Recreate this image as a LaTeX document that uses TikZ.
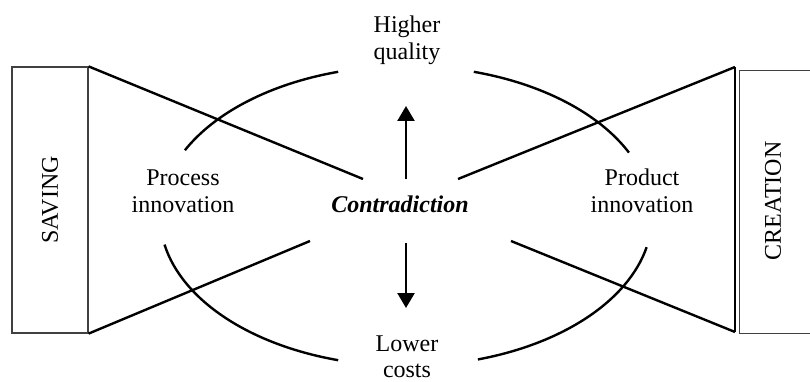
\documentclass[tikz,border=0pt]{standalone}
\usepackage{fontspec}
\setmainfont{Liberation Serif}
\usetikzlibrary{arrows.meta}
\begin{document}
\begin{tikzpicture}[x=1pt,y=-1pt,
  lbl/.style={font=\fontsize{24}{27}\selectfont, align=center, inner sep=0pt, anchor=base},
  thickline/.style={line width=2.4pt, black},
  boxline/.style={line width=1.2pt, draw=black!75},
  arr/.style={line width=2.4pt, -{Triangle[width=17pt,length=15pt]}}]
\useasboundingbox (0,0) rectangle (810,382);
% boxes
\node[boxline, draw, minimum width=76pt, minimum height=266pt, inner sep=0pt] (saving) at (50,200) {};
\node[rotate=90, font=\fontsize{24}{27}\selectfont, inner sep=0pt] (savingtxt) at (50,200) {SAVING};
\node[boxline, draw, minimum width=80pt, minimum height=263pt, inner sep=0pt, anchor=north west] (creation) at (739,70) {};
\node[rotate=90, font=\fontsize{24}{27}\selectfont, inner sep=0pt] (creationtxt) at (773,201) {CREATION};
\coordinate (rt) at (735,67);
\coordinate (rb) at (735,332);
\draw[thickline] (rt) -- (rb);
% wedge end points
\coordinate (ul) at (363,179);
\coordinate (ll) at (310,241);
\coordinate (ur) at (458,179);
\coordinate (lr) at (511,241);
\draw[thickline] (saving.north east) -- (ul);
\draw[thickline] (saving.south east) -- (ll);
\draw[thickline] (rt) -- (ur);
\draw[thickline] (rb) -- (lr);
% ellipse arcs
\coordinate (c) at (406,216);
\draw[thickline] (c) ++(206:246 and 150) arc[start angle=206, end angle=254, x radius=246, y radius=150];
\draw[thickline] (c) ++(286:246 and 150) arc[start angle=286, end angle=335, x radius=246, y radius=150];
\draw[thickline] (c) ++(106:246 and 150) arc[start angle=106, end angle=169, x radius=246, y radius=150];
\draw[thickline] (c) ++(12:246 and 150) arc[start angle=12, end angle=73, x radius=246, y radius=150];
% texts (base anchor = last line baseline)
\node[lbl] (hq) at (407,60) {Higher\\quality};
\node[lbl, font=\fontsize{24}{26}\selectfont] (lc) at (407,377) {Lower\\costs};
\node[lbl] (pi) at (183,212) {Process\\innovation};
\node[lbl] (pri) at (642,212) {Product\\innovation};
\node[lbl, font=\fontsize{24}{27}\selectfont\bfseries\itshape] (con) at (400,212) {Contradiction};
% arrows
\coordinate (a1) at (406,179);
\coordinate (a1t) at (406,106);
\coordinate (a2) at (406,243);
\coordinate (a2t) at (406,308);
\draw[arr] (a1) -- (a1t);
\draw[arr] (a2) -- (a2t);
\end{tikzpicture}
\end{document}
